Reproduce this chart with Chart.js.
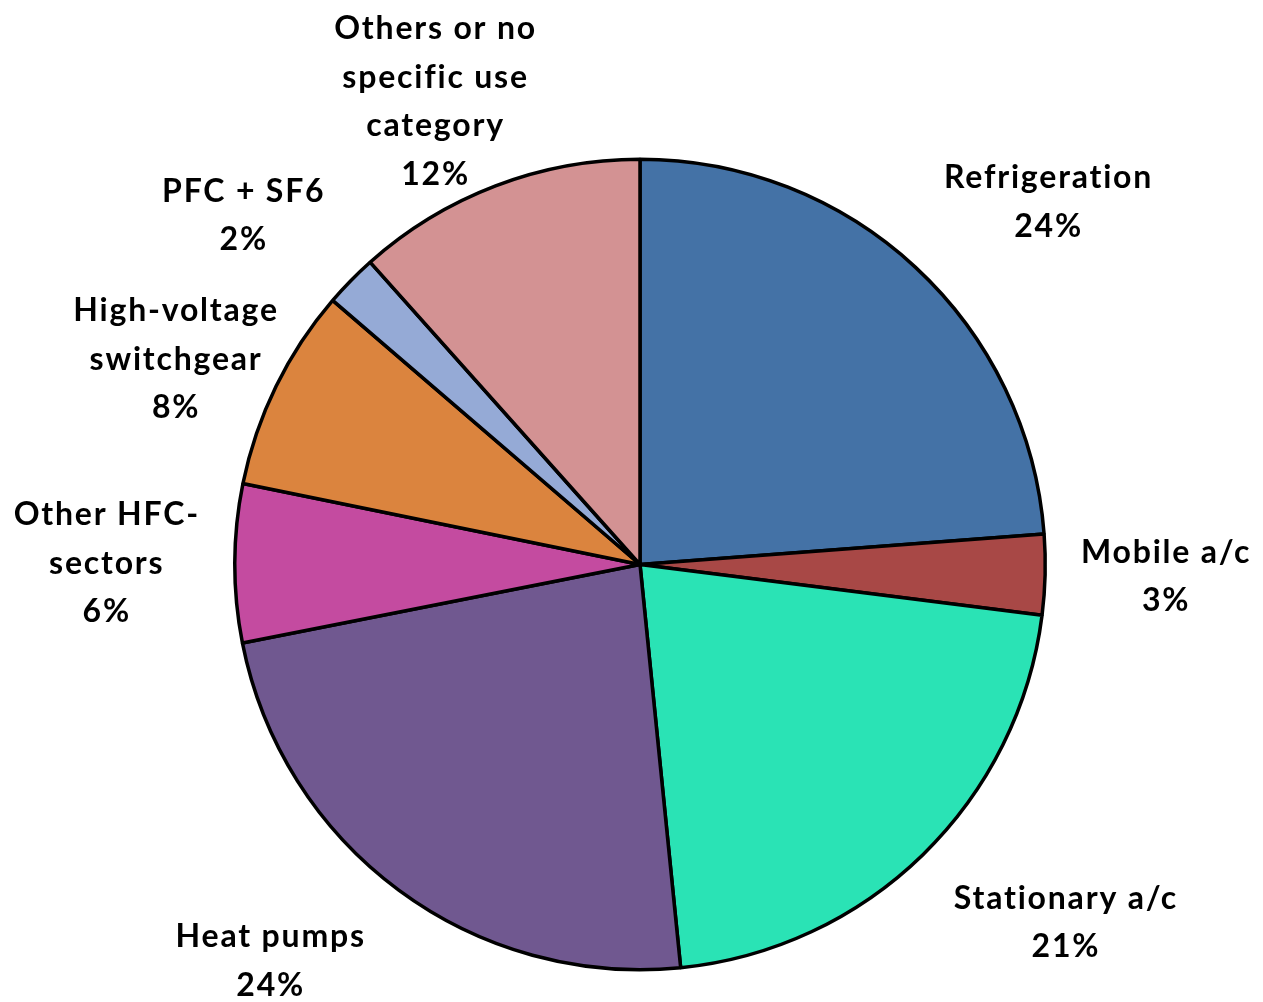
<!DOCTYPE html>
<html>
<head>
<meta charset="utf-8">
<script src="https://cdn.jsdelivr.net/npm/chart.js@4.4.0/dist/chart.umd.min.js"></script>
<style>
  html, body { margin: 0; padding: 0; background: #fff; }
  #wrap { width: 1263px; height: 1002px; position: relative; }
</style>
</head>
<body>
<div id="wrap"><canvas id="pie"></canvas></div>
<script>
// ----------------- Data -----------------
const categories = [
  ["Refrigeration"],
  ["Mobile a/c"],
  ["Stationary a/c"],
  ["Heat pumps"],
  ["Other HFC-", "sectors"],
  ["High-voltage", "switchgear"],
  ["PFC + SF6"],
  ["Others or no", "specific use", "category"]
];
const shares = [23.8, 3.2, 21.4, 23.5, 6.3, 8.1, 2.1, 11.6];
const percentLabels = ["24%", "3%", "21%", "24%", "6%", "8%", "2%", "12%"];

// ----------------- Styling -----------------
const sliceColors = ["#4472a6", "#a84846", "#2ae3b5", "#705890", "#c44ba0", "#db843e", "#95aad6", "#d39293"];
// label block offset from the slice's outer mid point
const labelOffsets = [[133, -65], [121, 2], [143, 68], [-128, 71], [-128, 0], [-100, -27], [-107, -65], [-60, -84]];
const FONT = "bold 32px Lato, 'Open Sans', sans-serif";
const LINE_H = 48.5;

// ----------------- Label plugin -----------------
const outsideLabels = {
  id: "outsideLabels",
  afterDatasetsDraw(chart) {
    const ctx = chart.ctx;
    const arcs = chart.getDatasetMeta(0).data;
    ctx.save();
    ctx.font = FONT;
    ctx.letterSpacing = "1.8px";
    ctx.fillStyle = "#000";
    ctx.textAlign = "center";
    ctx.textBaseline = "middle";
    arcs.forEach((arc, i) => {
      const mid = (arc.startAngle + arc.endAngle) / 2;
      const px = arc.x + Math.cos(mid) * arc.outerRadius;
      const py = arc.y + Math.sin(mid) * arc.outerRadius;
      const lines = categories[i].concat([percentLabels[i]]);
      const cx = px + labelOffsets[i][0];
      const cy = py + labelOffsets[i][1];
      const top = cy - (lines.length - 1) * LINE_H / 2;
      lines.forEach((t, k) => ctx.fillText(t, cx, top + k * LINE_H));
    });
    ctx.restore();
  }
};

// ----------------- Chart -----------------
new Chart(document.getElementById("pie"), {
  type: "pie",
  data: {
    labels: categories.map(c => c.join(" ")),
    datasets: [{
      data: shares,
      backgroundColor: sliceColors,
      borderColor: "#000",
      borderWidth: 3.5
    }]
  },
  options: {
    responsive: true,
    maintainAspectRatio: false,
    animation: false,
    layout: { padding: { top: 157, bottom: 30, left: 233, right: 216 } },
    plugins: {
      legend: { display: false },
      tooltip: { enabled: false }
    }
  },
  plugins: [outsideLabels]
});
</script>
</body>
</html>
